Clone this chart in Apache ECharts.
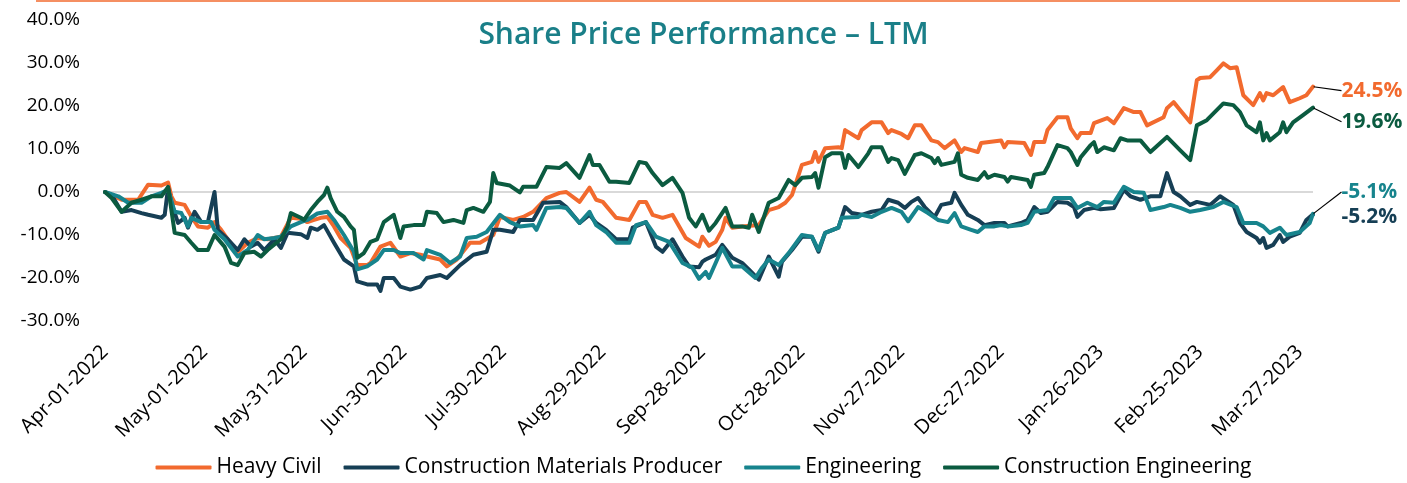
<!DOCTYPE html>
<html>
<head>
<meta charset="utf-8">
<title>Share Price Performance – LTM</title>
<script src="https://cdn.jsdelivr.net/npm/echarts/dist/echarts.min.js"></script>
<style>
  html, body { margin: 0; padding: 0; background: #fff; }
  #chart { width: 1407px; height: 483px; }
</style>
</head>
<body>
<div id="chart"></div>
<script>
// 横轴：Apr-01-2022 起逐日，共 365 天，每 30 天一个标签
const startYear = 2022;
const startMonth = 3;
const dayCount = 365;
const labelEvery = 30;
const monthNames = ['Jan', 'Feb', 'Mar', 'Apr', 'May', 'Jun', 'Jul', 'Aug', 'Sep', 'Oct', 'Nov', 'Dec'];
const yTicks = [-30, -20, -10, 0, 10, 20, 30, 40];

const seriesNames = ['Heavy Civil', 'Construction Materials Producer', 'Engineering', 'Construction Engineering'];

// [距 Apr-01-2022 的天数, 涨跌幅 %]
const heavyCivil = [
  [0, 0], [5, -1.8], [10, -1.8], [13, 1.7], [17, 1.5], [19, 2.2], [20, -1], [21, -2.5], [24, -3], [26, -5.7],
  [28, -8], [31, -8.3], [33, -7], [35, -8.8], [37, -11], [40, -14], [43, -11.8], [46, -10.7], [49, -11], [53, -10.4],
  [56, -6], [59, -6.2], [61, -7], [63, -6.5], [65, -6], [67, -5.8], [69, -8], [71, -10.7], [74, -13], [76, -17],
  [79, -17], [80, -16.5], [83, -12.7], [86, -11.8], [89, -15], [92, -14.2], [95, -14.6], [97, -15], [101, -15.7], [103, -17.3],
  [106, -15.7], [110, -11.8], [113, -11.8], [117, -10], [119, -5.8], [123, -6.5], [126, -5.8], [129, -4.6], [133, -1.4], [137, -0.2],
  [139, 0], [143, -2.3], [146, 1], [148, -1.8], [150, -2.3], [154, -6], [158, -6.5], [161, -2.3], [163, -2.3], [165, -5.3],
  [168, -6], [171, -5.3], [175, -10.7], [179, -12.7], [180, -10.4], [182, -12.5], [184, -11.6], [186, -8.8], [187, -6], [189, -8.3],
  [192, -8], [197, -7.7], [200, -4.2], [203, -3.5], [205, -2.5], [207, -0.7], [210, 6.3], [213, 7], [214, 9.3], [215, 7],
  [217, 10.2], [221, 10.4], [222, 10.2], [223, 14.4], [227, 12.5], [228, 14.4], [231, 16.2], [234, 16.2], [236, 13.7], [237, 14.4],
  [240, 13.5], [242, 12.5], [244, 15.5], [246, 15.5], [249, 12], [251, 11.6], [253, 10.2], [256, 12], [258, 9.3], [259, 10.2],
  [263, 9.3], [264, 11.4], [270, 12], [271, 10.4], [272, 11.6], [277, 11.4], [279, 8.6], [280, 11.6], [283, 11.6], [284, 14.4],
  [287, 17.4], [290, 17.4], [291, 14.8], [293, 12.5], [294, 13.7], [297, 13.7], [298, 16], [301, 16.9], [302, 17.2], [304, 16],
  [307, 19.5], [310, 18.6], [312, 18.6], [314, 15.5], [319, 17.4], [320, 19.5], [322, 20.9], [324, 19], [327, 16.2], [329, 26],
  [330, 26.5], [333, 26.7], [335, 28.3], [337, 29.9], [339, 28.8], [341, 29], [343, 22.5], [346, 20.2], [348, 23], [349, 21.3],
  [350, 23], [352, 22.5], [355, 24.4], [357, 20.9], [360, 21.8], [362, 22.5], [364, 24.5]
];

const materialsProducer = [
  [0, 0], [2, -0.7], [5, -4.6], [8, -4.2], [11, -4.9], [13, -5.3], [17, -6], [18, -5.3], [19, 1], [20, -2.5],
  [22, -7.2], [24, -6], [25, -8.3], [27, -4.6], [29, -7], [31, -7], [33, 0], [34, -8.8], [37, -11], [40, -13.5],
  [42, -11], [44, -12.7], [46, -11.8], [48, -13.5], [51, -11], [53, -13], [55, -9.5], [59, -9.8], [61, -10.7], [62, -8.3],
  [64, -8.8], [66, -7.7], [69, -11.8], [72, -15.7], [75, -17.3], [76, -20.8], [79, -21.5], [82, -21.5], [83, -23], [84, -20],
  [87, -20], [89, -22], [92, -22.7], [95, -22], [97, -20], [101, -19.3], [103, -20], [107, -17], [111, -14.6], [115, -13.9],
  [117, -8.8], [119, -8.8], [123, -9.3], [125, -6.5], [129, -6.5], [132, -2.5], [137, -2.3], [139, -3.5], [143, -7.2], [146, -5.3],
  [148, -7.2], [151, -8.8], [154, -11], [158, -11], [159, -8.3], [163, -7], [166, -12.7], [168, -13.9], [171, -11], [174, -15],
  [176, -17.3], [179, -17.5], [180, -16.2], [181, -15.7], [184, -14.6], [186, -12.3], [189, -15.3], [192, -16.5], [194, -18], [197, -20.4],
  [200, -15], [203, -19.7], [204, -16.2], [207, -13.5], [210, -10.4], [213, -10.4], [215, -13.9], [217, -9.5], [221, -8.3], [223, -3.5],
  [225, -4.9], [228, -5.3], [231, -4.6], [234, -4.2], [236, -1.8], [239, -2.5], [241, -3.7], [243, -2.3], [245, -1.4], [247, -3.5],
  [250, -5.8], [252, -3], [255, -2.5], [256, -0.2], [258, -3], [260, -5.3], [263, -6.5], [265, -7.7], [268, -7.2], [271, -7.2],
  [272, -8], [276, -7.2], [278, -6.5], [280, -3.5], [282, -4.9], [284, -4.6], [287, -2.3], [290, -2.5], [292, -3.5], [293, -5.8],
  [295, -4.2], [298, -3.7], [300, -4], [304, -3.7], [307, 0.5], [309, -1], [312, -1.8], [315, -1], [318, -1], [320, 4.4],
  [322, 0], [324, -1], [327, -3], [329, -2.3], [333, -3], [336, -1], [340, -3], [342, -7.2], [344, -9.3], [347, -10.7],
  [348, -11.8], [349, -10.7], [350, -13], [352, -12.3], [354, -10], [355, -11.6], [357, -10.4], [360, -9.5], [362, -6.5], [364, -5.2]
];

const engineering = [
  [0, 0], [4, -1], [7, -2.5], [11, -2.5], [14, -1], [17, -0.2], [19, 0.5], [21, -4.6], [23, -4.9], [25, -8],
  [26, -6], [29, -7], [32, -7], [33, -8.8], [36, -11], [40, -15], [43, -13.5], [46, -10], [48, -11], [51, -10.7],
  [53, -10.4], [56, -8], [59, -7], [61, -6.5], [64, -5], [67, -4.6], [69, -6.5], [72, -10], [75, -13.9], [76, -18],
  [79, -17.3], [82, -15.7], [84, -13.5], [87, -13.5], [89, -14.2], [93, -14.2], [96, -15.7], [97, -13.5], [101, -14.6], [104, -16.5],
  [107, -15], [109, -10.7], [112, -10.4], [115, -9.3], [119, -5.3], [122, -7], [125, -8], [129, -7.7], [130, -8.8], [133, -3.7],
  [137, -3.5], [139, -3.7], [143, -7.2], [146, -4.6], [148, -7.7], [151, -9.3], [154, -11.8], [158, -11.8], [160, -7.7], [163, -7],
  [166, -10.4], [170, -11.6], [174, -16.5], [177, -17.6], [179, -20.2], [181, -18.6], [182, -20], [184, -16.5], [186, -13], [189, -17.3],
  [192, -17.3], [196, -20], [198, -17.6], [200, -15.7], [203, -17], [206, -14.2], [210, -10], [213, -10.4], [215, -13.5], [217, -9.5],
  [221, -8.3], [222, -6], [227, -5.8], [228, -5.3], [231, -5.8], [234, -4.6], [237, -3.7], [240, -4.6], [242, -6.8], [245, -3.5],
  [248, -4.9], [251, -6.5], [254, -7], [256, -4.9], [258, -8], [261, -8.8], [263, -9.3], [265, -8], [268, -8], [270, -7.7],
  [272, -8], [276, -7.7], [278, -7.2], [280, -4.6], [284, -4.2], [286, -1.4], [291, -1.4], [293, -3.7], [296, -2.5], [299, -3.5],
  [301, -2.3], [304, -2.5], [307, 1.2], [310, 0], [313, -0.2], [315, -4.2], [319, -3.5], [321, -3], [324, -3.7], [327, -4.6],
  [330, -4.2], [334, -3.5], [337, -2.3], [341, -3.5], [343, -7.2], [347, -7.2], [349, -8], [351, -9.5], [354, -8.3], [356, -10],
  [360, -9.3], [363, -7.2], [364, -5.1]
];

const constructionEngineering = [
  [0, 0], [2, -1.4], [5, -4.6], [8, -2.5], [11, -1.8], [14, -1], [17, -1], [19, 1.2], [20, -4.2], [21, -9.5],
  [24, -10], [26, -11.8], [28, -13.5], [31, -13.5], [33, -10], [36, -12.7], [38, -16.5], [40, -17], [42, -14.2], [45, -13.9],
  [47, -15], [49, -13.5], [53, -11], [55, -8], [56, -4.9], [59, -6], [60, -6.5], [62, -4.2], [64, -2.3], [66, -0.7],
  [67, 1], [68, -1.4], [70, -4.6], [72, -5.8], [74, -8], [75, -8.8], [76, -15.3], [78, -14.2], [80, -11.6], [82, -11],
  [84, -7], [87, -5.3], [89, -10.7], [90, -8], [93, -7.7], [96, -7.7], [97, -4.6], [100, -4.9], [102, -7], [105, -6.5],
  [108, -7.2], [109, -4.2], [111, -3.7], [114, -4.6], [116, -2.3], [117, 4.4], [118, 2.1], [122, 1.5], [125, -0.1], [126, 1.2],
  [130, 1.2], [133, 5.8], [137, 5.6], [139, 6.7], [143, 3.3], [146, 8.6], [147, 6.3], [149, 6.3], [152, 2.4], [154, 2.4],
  [158, 2.1], [161, 7], [163, 6.7], [165, 4.4], [168, 1.6], [171, 3.3], [174, -0.2], [176, -6], [178, -8], [180, -5.3],
  [182, -9], [184, -7.2], [187, -3.7], [189, -8], [192, -8], [194, -8.3], [195, -5.3], [197, -9.3], [200, -2.5], [203, -1.4],
  [206, 2.8], [208, 1.6], [210, 3.3], [213, 3.5], [214, 4.4], [215, 1], [217, 8.1], [219, 9], [222, 9], [223, 5.6],
  [224, 8.6], [227, 5.8], [230, 9], [231, 10.4], [234, 10.4], [236, 7], [237, 7.9], [239, 7.4], [241, 4.2], [244, 8.6],
  [246, 9], [249, 7.9], [250, 6.7], [251, 7.9], [252, 6.3], [256, 7], [257, 9], [258, 4], [260, 3.3], [263, 2.8],
  [265, 4.6], [266, 3.3], [268, 4], [271, 3.5], [272, 2.4], [273, 3.5], [278, 2.8], [279, 1.2], [280, 4], [283, 4.4],
  [284, 5.8], [287, 10.9], [290, 10.2], [291, 9.3], [293, 6.3], [294, 8.1], [297, 10.9], [298, 11.6], [299, 9.3], [301, 10.4],
  [304, 9.7], [306, 12.5], [308, 12], [312, 12], [315, 9.3], [320, 12.8], [324, 9.7], [327, 7.4], [329, 15.5], [332, 16.7],
  [337, 20.6], [340, 20.2], [342, 18.6], [344, 15.5], [347, 13.9], [348, 16.2], [349, 12], [350, 13.7], [351, 12], [354, 13.9],
  [355, 16.2], [356, 13.9], [358, 16.2], [361, 17.9], [364, 19.6]
];

const seriesData = [heavyCivil, materialsProducer, engineering, constructionEngineering];
const colors = ['#F26A2E', '#163F55', '#17848D', '#0B5B40'];
// 末端标签的偏移和是否画引线
const endLabelShift = [
  { dx: 23, dy: 4, line: true },
  { dx: 23, dy: 3, line: false },
  { dx: 23, dy: -22, line: true },
  { dx: 23, dy: 14, line: true }
];

const fontFamily = '"Open Sans", "Noto Sans", sans-serif';

const categories = [];
for (let i = 0; i < dayCount; i++) {
  const d = new Date(Date.UTC(startYear, startMonth, 1 + i));
  categories.push(monthNames[d.getUTCMonth()] + '-' + String(d.getUTCDate()).padStart(2, '0') + '-' + d.getUTCFullYear());
}

const lineSeries = seriesNames.map((name, i) => ({
  name: name,
  type: 'line',
  data: seriesData[i],
  symbol: 'none',
  color: colors[i],
  lineStyle: { width: 4, color: colors[i], join: 'round', cap: 'round' },
  emphasis: { disabled: true },
  silent: true
}));

// 用单点散点挂末端数值标签，方便加引线
const labelSeries = seriesNames.map((name, i) => {
  const shift = endLabelShift[i];
  return {
    name: name,
    type: 'scatter',
    data: [seriesData[i][seriesData[i].length - 1]],
    symbolSize: 1,
    itemStyle: { color: colors[i], opacity: 1 },
    z: 5,
    silent: true,
    emphasis: { disabled: true },
    label: {
      show: true,
      position: 'right',
      distance: 5,
      formatter: p => p.value[1].toFixed(1) + '%',
      color: colors[i],
      opacity: 1,
      fontSize: 21,
      fontWeight: 'bold',
      fontFamily: fontFamily
    },
    labelLayout: { dx: shift.dx, dy: shift.dy },
    labelLine: { show: shift.line, lineStyle: { color: '#000', width: 1.2, opacity: 1 } }
  };
});

const chart = echarts.init(document.getElementById('chart'), null, { renderer: 'canvas' });
chart.setOption({
  animation: false,
  backgroundColor: '#fff',
  title: {
    text: 'Share Price Performance \u2013 LTM',
    left: 'center',
    top: 15,
    textStyle: { color: '#1A7F88', fontSize: 30, fontWeight: 600, fontFamily: fontFamily }
  },
  graphic: [{
    type: 'line',
    shape: { x1: 36, y1: 1, x2: 1400, y2: 1 },
    style: { stroke: '#F26A2E', lineWidth: 1.5 },
    silent: true
  }],
  legend: {
    data: seriesNames,
    bottom: 0,
    left: 'center',
    icon: 'roundRect',
    itemWidth: 56,
    itemHeight: 4,
    itemGap: 22,
    textStyle: { color: '#000', fontSize: 21, fontFamily: fontFamily }
  },
  grid: { left: 105, right: 94, top: 20, bottom: 162, outerBoundsMode: 'none', containLabel: false },
  xAxis: {
    type: 'category',
    data: categories,
    boundaryGap: false,
    axisLine: { show: false },
    axisTick: { show: false },
    splitLine: { show: false },
    axisLabel: {
      interval: labelEvery - 1,
      rotate: 45,
      margin: 28,
      color: '#000',
      fontSize: 20,
      fontFamily: fontFamily,
      hideOverlap: false
    }
  },
  yAxis: {
    type: 'value',
    min: yTicks[0],
    max: yTicks[yTicks.length - 1],
    interval: 10,
    axisLine: { show: false },
    axisTick: { show: false },
    axisLabel: {
      margin: 25,
      color: '#000',
      fontSize: 19,
      fontFamily: fontFamily,
      formatter: v => v.toFixed(1) + '%'
    },
    splitLine: {
      show: true,
      lineStyle: { width: 2, color: yTicks.map(v => v === 0 ? '#D9D9D9' : 'rgba(0,0,0,0)') }
    }
  },
  series: lineSeries.concat(labelSeries)
});
</script>
</body>
</html>
